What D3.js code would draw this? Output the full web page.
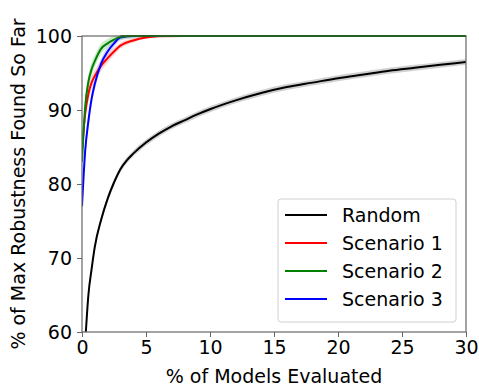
<!DOCTYPE html>
<html>
<head>
<meta charset="utf-8">
<script src="https://cdn.jsdelivr.net/npm/d3@7"></script>
<style>
  body { margin: 0; background: #fff; }
  svg { font-family: "DejaVu Sans", sans-serif; }
</style>
</head>
<body>
<svg id="chart" width="479" height="388"></svg>
<script>
// data
const xTicks = [0, 5, 10, 15, 20, 25, 30];
const yTicks = [60, 70, 80, 90, 100];

const randomX = [0.3, 0.5, 0.75, 1, 1.5, 2, 2.5, 3, 3.5, 4, 5, 6, 7, 8, 9, 10, 12, 14, 16, 18, 20, 22, 24, 26, 28, 30];
const randomY = [60, 65, 68.5, 71.5, 75.2, 78, 80.2, 82, 83.2, 84.1, 85.6, 86.8, 87.8, 88.6, 89.4, 90.1, 91.3, 92.3, 93.1, 93.7, 94.3, 94.8, 95.3, 95.7, 96.1, 96.5];
const randomSpread = 0.4;

const scenX = [0, 0.25, 0.5, 0.75, 1, 1.5, 2, 2.5, 3, 4, 5, 6, 8, 10, 30];
const scen1Y = [84.5, 89.5, 92.2, 93.7, 94.6, 96.0, 97.0, 97.9, 98.7, 99.4, 99.8, 99.95, 100, 100, 100];
const scen2Y = [83, 90.5, 93.8, 95.5, 96.6, 98.3, 99.0, 99.5, 99.9, 100, 100, 100, 100, 100, 100];
const scen3Y = [77, 84.5, 88.5, 91.5, 93.5, 96.3, 97.9, 99.0, 99.8, 100, 100, 100, 100, 100, 100];
const scenSpread = [1.0, 1.1, 1.0, 0.9, 0.8, 0.7, 0.6, 0.5, 0.4, 0.3, 0.15, 0.05, 0, 0, 0];

const seriesNames = ['Random', 'Scenario 1', 'Scenario 2', 'Scenario 3'];
const seriesColors = ['#000000', '#ff0000', '#008000', '#0000ff'];

// layout
const width = 479, height = 388;
const margin = {top: 36, right: 13, bottom: 56, left: 82};
const spine = '#666';
const fontSize = 19;

const svg = d3.select('#chart');

const x = d3.scaleLinear().domain([0, 30]).range([margin.left, width - margin.right]);
const y = d3.scaleLinear().domain([60, 100]).range([height - margin.bottom, margin.top]);

svg.append('clipPath').attr('id', 'plot')
  .append('rect')
  .attr('x', margin.left).attr('y', margin.top - 2)
  .attr('width', x(30) - x(0)).attr('height', y(60) - y(100) + 2);

const line = d3.line().curve(d3.curveMonotoneX).x(d => x(d[0])).y(d => y(d[1]));
const area = d3.area().curve(d3.curveMonotoneX)
  .x(d => x(d[0])).y0(d => y(d[1] - d[2])).y1(d => y(Math.min(100, d[1] + d[2])));

const series = [
  {xs: randomX, ys: randomY, spread: randomX.map(() => randomSpread), color: seriesColors[0], band: '#c4c4c4', op: 0.8},
  {xs: scenX, ys: scen1Y, spread: scenSpread, color: seriesColors[1], band: '#ffa0a0', op: 0.45},
  {xs: scenX, ys: scen3Y, spread: scenSpread, color: seriesColors[3], band: '#a0a0ff', op: 0.4},
  {xs: scenX, ys: scen2Y, spread: scenSpread, color: seriesColors[2], band: '#90d090', op: 0.45}
];

const g = svg.append('g').attr('clip-path', 'url(#plot)');

series.forEach(s => {
  const pts = s.xs.map((v, i) => [v, s.ys[i], s.spread[i]]);
  g.append('path')
    .attr('d', area(pts))
    .attr('fill', s.band)
    .attr('opacity', s.op);
});
series.forEach(s => {
  const pts = s.xs.map((v, i) => [v, s.ys[i]]);
  g.append('path')
    .attr('d', line(pts))
    .attr('fill', 'none')
    .attr('stroke', s.color)
    .attr('stroke-width', 2);
});

// axes
const xAxis = d3.axisBottom(x).tickValues(xTicks).tickSize(5).tickPadding(4);
const yAxis = d3.axisLeft(y).tickValues(yTicks).tickSize(5).tickPadding(5);

const gx = svg.append('g')
  .attr('transform', 'translate(0,' + (height - margin.bottom) + ')')
  .call(xAxis);
const gy = svg.append('g')
  .attr('transform', 'translate(' + margin.left + ',0)')
  .call(yAxis);

[gx, gy].forEach(a => {
  a.select('.domain').remove();
  a.selectAll('.tick line').attr('stroke', spine).attr('stroke-width', 1);
  a.selectAll('.tick text')
    .attr('fill', '#000')
    .style('font-size', fontSize + 'px')
    .style('font-family', '"DejaVu Sans", sans-serif');
});

// spines
svg.append('rect')
  .attr('x', x(0)).attr('y', y(100))
  .attr('width', x(30) - x(0)).attr('height', y(60) - y(100))
  .attr('fill', 'none')
  .attr('stroke', spine)
  .attr('stroke-width', 1.2);

// the green line runs along the top frame in the original
svg.append('line')
  .attr('x1', x(3)).attr('x2', x(30))
  .attr('y1', y(100)).attr('y2', y(100))
  .attr('stroke', '#1f5a1f')
  .attr('stroke-width', 1.5);

// axis labels
svg.append('text')
  .attr('x', (x(0) + x(30)) / 2)
  .attr('y', 383)
  .attr('text-anchor', 'middle')
  .style('font-size', fontSize + 'px')
  .text('% of Models Evaluated');

svg.append('text')
  .attr('transform', 'translate(25,' + (y(60) + y(100)) / 2 + ') rotate(-90)')
  .attr('text-anchor', 'middle')
  .style('font-size', fontSize + 'px')
  .text('% of Max Robustness Found So Far');

// legend
const legend = svg.append('g');
legend.append('rect')
  .attr('x', 278).attr('y', 199)
  .attr('width', 178).attr('height', 123)
  .attr('rx', 3)
  .attr('fill', '#fff').attr('fill-opacity', 0.85)
  .attr('stroke', '#d0d0d0');

seriesNames.forEach((name, i) => {
  const cy = 215 + i * 28;
  legend.append('line')
    .attr('x1', 285).attr('x2', 327)
    .attr('y1', cy).attr('y2', cy)
    .attr('stroke', seriesColors[i])
    .attr('stroke-width', 2);
  legend.append('text')
    .attr('x', 342).attr('y', cy)
    .attr('dy', '0.35em')
    .style('font-size', fontSize + 'px')
    .text(name);
});
</script>
</body>
</html>
